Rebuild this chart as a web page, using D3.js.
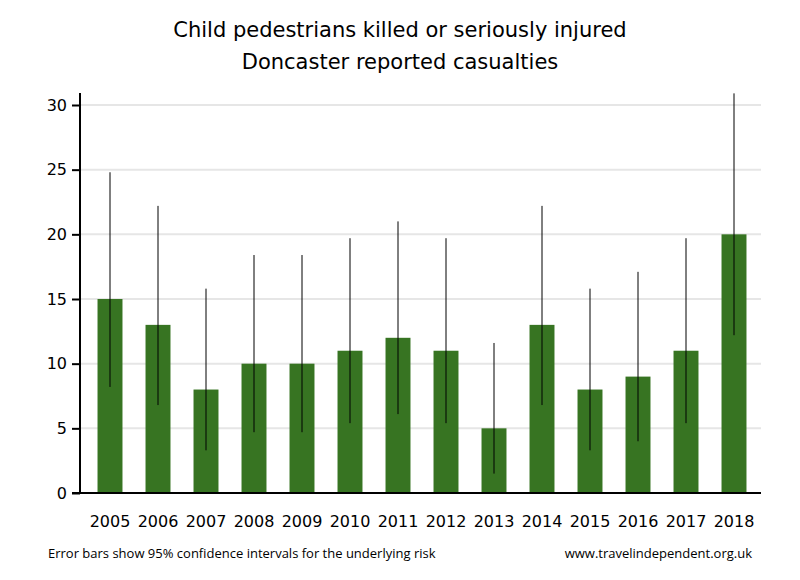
<!DOCTYPE html>
<html>
<head>
<meta charset="utf-8">
<script src="https://cdn.jsdelivr.net/npm/d3@7"></script>
<style>
body { margin: 0; background: #fff; }
text { font-family: "DejaVu Sans", Verdana, sans-serif; }
.foot { font-family: "Liberation Sans Narrow", "Open Sans", sans-serif; }
</style>
</head>
<body>
<svg id="chart" width="800" height="580"></svg>
<script>
'use strict';
// values
const years = ["2005","2006","2007","2008","2009","2010","2011","2012","2013","2014","2015","2016","2017","2018"];
const casualties = [15, 13, 8, 10, 10, 11, 12, 11, 5, 13, 8, 9, 11, 20];
const lower = [8.2, 6.8, 3.3, 4.7, 4.7, 5.4, 6.1, 5.4, 1.5, 6.8, 3.3, 4.0, 5.4, 12.2];
const upper = [24.8, 22.2, 15.8, 18.4, 18.4, 19.7, 21.0, 19.7, 11.6, 22.2, 15.8, 17.1, 19.7, 30.9];
const yTicks = [0, 5, 10, 15, 20, 25, 30];

const svg = d3.select("#chart");
const plotLeft = 80, plotRight = 761, plotTop = 93, plotBottom = 493;

const x = d3.scaleBand().domain(years).range([86, 758]).paddingInner(0.48).paddingOuter(0.24);
const y = d3.scaleLinear().domain([0, 30]).range([plotBottom, 105]);

// title
svg.append("text").attr("x", 400).attr("y", 37).attr("text-anchor", "middle")
  .attr("font-size", 21).text("Child pedestrians killed or seriously injured");
svg.append("text").attr("x", 400).attr("y", 69).attr("text-anchor", "middle")
  .attr("font-size", 21).text("Doncaster reported casualties");

// gridlines
svg.append("g").selectAll("line").data(yTicks.filter(d => d > 0)).join("line")
  .attr("x1", plotLeft).attr("x2", plotRight)
  .attr("y1", d => y(d)).attr("y2", d => y(d))
  .attr("stroke", "#e6e6e6").attr("stroke-width", 2);

// bars
svg.append("g").selectAll("rect").data(casualties).join("rect")
  .attr("x", (d, i) => x(years[i]))
  .attr("width", x.bandwidth())
  .attr("y", d => y(d))
  .attr("height", d => y(0) - y(d))
  .attr("fill", "#377422");

// error bars
svg.append("g").selectAll("line").data(years).join("line")
  .attr("x1", d => x(d) + x.bandwidth() / 2).attr("x2", d => x(d) + x.bandwidth() / 2)
  .attr("y1", (d, i) => y(lower[i])).attr("y2", (d, i) => y(upper[i]))
  .attr("stroke", "#000").attr("stroke-width", 1);

// y axis
const yAxis = svg.append("g").attr("transform", `translate(${plotLeft},0)`)
  .call(d3.axisLeft(y).tickValues(yTicks).tickSize(8).tickPadding(5));
yAxis.select(".domain").remove();
yAxis.selectAll(".tick line").attr("stroke-width", 2);
yAxis.selectAll(".tick text").attr("font-size", 16).attr("fill", "#000")
  .attr("font-family", "DejaVu Sans, Verdana, sans-serif");
svg.append("line").attr("x1", plotLeft).attr("x2", plotLeft).attr("y1", plotTop).attr("y2", plotBottom + 1)
  .attr("stroke", "#000").attr("stroke-width", 2);

// x axis
svg.append("line").attr("x1", plotLeft - 8).attr("x2", plotRight).attr("y1", plotBottom).attr("y2", plotBottom)
  .attr("stroke", "#000").attr("stroke-width", 2);
svg.append("g").selectAll("text").data(years).join("text")
  .attr("x", d => x(d) + x.bandwidth() / 2).attr("y", 527)
  .attr("text-anchor", "middle").attr("font-size", 16).text(d => d);

// footer
svg.append("text").attr("class", "foot").attr("x", 48).attr("y", 558)
  .attr("font-size", 13).text("Error bars show 95% confidence intervals for the underlying risk");
svg.append("text").attr("class", "foot").attr("x", 752).attr("y", 558).attr("text-anchor", "end")
  .attr("font-size", 13).text("www.travelindependent.org.uk");
</script>
</body>
</html>
